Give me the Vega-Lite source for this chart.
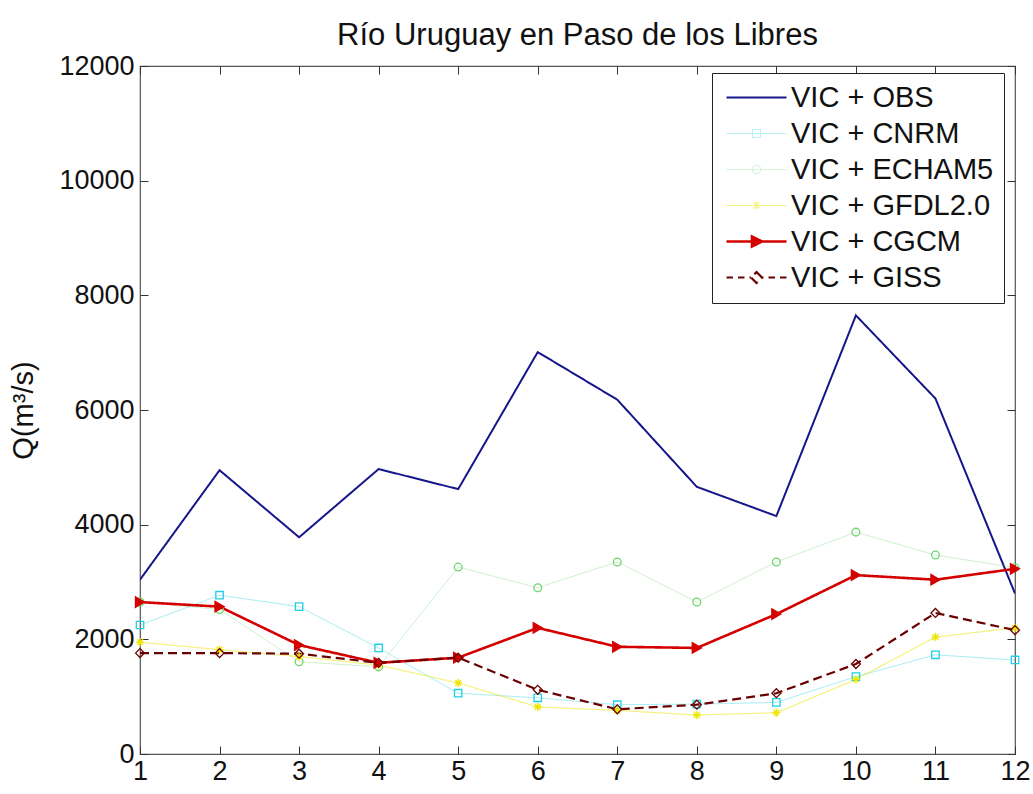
{
  "$schema": "https://vega.github.io/schema/vega-lite/v6.json",
  "autosize": "none",
  "width": 875,
  "height": 688,
  "padding": {"left": 140, "top": 66, "right": 18, "bottom": 40},
  "background": "white",
  "title": {"text": "Río Uruguay en Paso de los Libres", "fontSize": 31, "font": "Liberation Sans", "fontWeight": "normal", "color": "#111", "anchor": "middle", "offset": 0},
  "config": {
    "view": {"stroke": "#555", "strokeWidth": 1.2},
    "axis": {"domain": false, "grid": false, "tickSize": 8, "offset": -8, "tickColor": "#333", "tickWidth": 1, "labelFont": "Liberation Sans", "labelFontSize": 27, "labelColor": "#111", "titleFont": "Liberation Sans", "titleFontSize": 29, "titleFontWeight": "normal", "titleColor": "#111"}
  },
  "data": {"values": [
    {"m":1,"s":"VIC + OBS","q":3040},{"m":2,"s":"VIC + OBS","q":4950},{"m":3,"s":"VIC + OBS","q":3780},{"m":4,"s":"VIC + OBS","q":4970},{"m":5,"s":"VIC + OBS","q":4620},{"m":6,"s":"VIC + OBS","q":7010},{"m":7,"s":"VIC + OBS","q":6180},{"m":8,"s":"VIC + OBS","q":4660},{"m":9,"s":"VIC + OBS","q":4150},{"m":10,"s":"VIC + OBS","q":7650},{"m":11,"s":"VIC + OBS","q":6200},{"m":12,"s":"VIC + OBS","q":2800},
    {"m":1,"s":"VIC + CNRM","q":2250},{"m":2,"s":"VIC + CNRM","q":2770},{"m":3,"s":"VIC + CNRM","q":2570},{"m":4,"s":"VIC + CNRM","q":1850},{"m":5,"s":"VIC + CNRM","q":1060},{"m":6,"s":"VIC + CNRM","q":980},{"m":7,"s":"VIC + CNRM","q":860},{"m":8,"s":"VIC + CNRM","q":870},{"m":9,"s":"VIC + CNRM","q":900},{"m":10,"s":"VIC + CNRM","q":1350},{"m":11,"s":"VIC + CNRM","q":1730},{"m":12,"s":"VIC + CNRM","q":1640},
    {"m":1,"s":"VIC + ECHAM5","q":2650},{"m":2,"s":"VIC + ECHAM5","q":2520},{"m":3,"s":"VIC + ECHAM5","q":1610},{"m":4,"s":"VIC + ECHAM5","q":1520},{"m":5,"s":"VIC + ECHAM5","q":3260},{"m":6,"s":"VIC + ECHAM5","q":2900},{"m":7,"s":"VIC + ECHAM5","q":3350},{"m":8,"s":"VIC + ECHAM5","q":2650},{"m":9,"s":"VIC + ECHAM5","q":3350},{"m":10,"s":"VIC + ECHAM5","q":3870},{"m":11,"s":"VIC + ECHAM5","q":3470},{"m":12,"s":"VIC + ECHAM5","q":3250},
    {"m":1,"s":"VIC + GFDL2.0","q":1950},{"m":2,"s":"VIC + GFDL2.0","q":1820},{"m":3,"s":"VIC + GFDL2.0","q":1700},{"m":4,"s":"VIC + GFDL2.0","q":1550},{"m":5,"s":"VIC + GFDL2.0","q":1240},{"m":6,"s":"VIC + GFDL2.0","q":820},{"m":7,"s":"VIC + GFDL2.0","q":760},{"m":8,"s":"VIC + GFDL2.0","q":680},{"m":9,"s":"VIC + GFDL2.0","q":720},{"m":10,"s":"VIC + GFDL2.0","q":1300},{"m":11,"s":"VIC + GFDL2.0","q":2040},{"m":12,"s":"VIC + GFDL2.0","q":2200},
    {"m":1,"s":"VIC + CGCM","q":2650},{"m":2,"s":"VIC + CGCM","q":2570},{"m":3,"s":"VIC + CGCM","q":1900},{"m":4,"s":"VIC + CGCM","q":1590},{"m":5,"s":"VIC + CGCM","q":1680},{"m":6,"s":"VIC + CGCM","q":2200},{"m":7,"s":"VIC + CGCM","q":1870},{"m":8,"s":"VIC + CGCM","q":1850},{"m":9,"s":"VIC + CGCM","q":2440},{"m":10,"s":"VIC + CGCM","q":3120},{"m":11,"s":"VIC + CGCM","q":3040},{"m":12,"s":"VIC + CGCM","q":3230},
    {"m":1,"s":"VIC + GISS","q":1760},{"m":2,"s":"VIC + GISS","q":1760},{"m":3,"s":"VIC + GISS","q":1750},{"m":4,"s":"VIC + GISS","q":1590},{"m":5,"s":"VIC + GISS","q":1680},{"m":6,"s":"VIC + GISS","q":1120},{"m":7,"s":"VIC + GISS","q":780},{"m":8,"s":"VIC + GISS","q":860},{"m":9,"s":"VIC + GISS","q":1060},{"m":10,"s":"VIC + GISS","q":1570},{"m":11,"s":"VIC + GISS","q":2460},{"m":12,"s":"VIC + GISS","q":2160}
  ]},
  "layer": [
    {
      "mark": {"type": "line", "clip": true},
      "encoding": {
        "x": {"field": "m", "type": "quantitative", "scale": {"domain": [1, 12], "nice": false, "zero": false},
              "axis": {"orient": "bottom", "values": [1,2,3,4,5,6,7,8,9,10,11,12], "title": null, "labelPadding": 4, "labelFlush": false}},
        "y": {"field": "q", "type": "quantitative", "scale": {"domain": [0, 12000], "nice": false},
              "axis": {"orient": "left", "values": [0,2000,4000,6000,8000,10000,12000], "format": "d", "title": "Q(m³/s)", "labelPadding": 6, "titlePadding": 20, "labelFlush": false}},
        "color": {"field": "s", "type": "nominal",
          "scale": {"domain": ["VIC + OBS","VIC + CNRM","VIC + ECHAM5","VIC + GFDL2.0","VIC + CGCM","VIC + GISS"],
                    "range": ["#16168a","#20cfe4","#6fd46f","#ece600","#d40000","#6a0000"]},
          "legend": {
            "orient": "none", "legendX": 572, "legendY": 7, "title": null,
            "strokeColor": "#222", "fillColor": "white", "padding": 10,
            "labelFont": "Liberation Sans", "labelFontSize": 29, "labelColor": "#111", "labelLimit": 400,
            "labelOffset": 40, "rowPadding": 6, "symbolSize": 400, "symbolStrokeWidth": 1.5,
            "encode": {"symbols": {"update": {
              "shape": {"signal": "datum.value === 'VIC + OBS' ? 'M-1,0H5' : datum.value === 'VIC + CNRM' ? 'M-1,0H5M1.6,-0.4H2.4V0.4H1.6Z' : datum.value === 'VIC + ECHAM5' ? 'M-1,0H5M2.42,0A0.42,0.42 0 1,1 1.58,0A0.42,0.42 0 1,1 2.42,0Z' : datum.value === 'VIC + GFDL2.0' ? 'M-1,0H5M2,-0.4V0.4M1.7,-0.3L2.3,0.3M1.7,0.3L2.3,-0.3' : datum.value === 'VIC + CGCM' ? 'M-1,0H5M1.55,-0.5L2.55,0L1.55,0.5Z' : 'M-1,0H-0.35M0.15,0H0.8M1.3,0H1.45M2.55,0H2.7M3.2,0H3.85M4.35,0H5M2,-0.55L2.55,0L2,0.55L1.45,0Z'"},
              "fill": {"signal": "datum.value === 'VIC + CGCM' ? '#d40000' : 'transparent'"},
              "strokeWidth": {"signal": "datum.value === 'VIC + CGCM' ? 2.6 : datum.value === 'VIC + GISS' ? 2 : datum.value === 'VIC + OBS' ? 2.2 : 1.3"},
              "opacity": {"value": 1},
              "strokeOpacity": {"value": 1},
              "fillOpacity": {"value": 1}
            }}}
          }},
        "strokeDash": {"field": "s", "type": "nominal", "legend": null,
          "scale": {"domain": ["VIC + OBS","VIC + CNRM","VIC + ECHAM5","VIC + GFDL2.0","VIC + CGCM","VIC + GISS"],
                    "range": [[1,0],[1,0],[1,0],[1,0],[1,0],[9,5]]}},
        "strokeWidth": {"field": "s", "type": "nominal", "legend": null,
          "scale": {"type": "ordinal", "domain": ["VIC + OBS","VIC + CNRM","VIC + ECHAM5","VIC + GFDL2.0","VIC + CGCM","VIC + GISS"],
                    "range": [2, 1, 1, 1.2, 2.6, 2.2]}},
        "opacity": {"field": "s", "type": "nominal", "legend": null,
          "scale": {"type": "ordinal", "domain": ["VIC + OBS","VIC + CNRM","VIC + ECHAM5","VIC + GFDL2.0","VIC + CGCM","VIC + GISS"],
                    "range": [1, 0.4, 0.35, 0.5, 1, 1]}}
      }
    },
    {
      "transform": [{"filter": "datum.s !== 'VIC + OBS'"}],
      "mark": {"type": "point", "strokeWidth": 1.3, "opacity": 1, "clip": false},
      "encoding": {
        "x": {"field": "m", "type": "quantitative", "axis": {"orient": "top", "values": [1,2,3,4,5,6,7,8,9,10,11,12], "labels": false, "title": null}},
        "y": {"field": "q", "type": "quantitative", "axis": {"orient": "right", "values": [0,2000,4000,6000,8000,10000,12000], "labels": false, "title": null}},
        "shape": {"field": "s", "type": "nominal", "legend": null,
          "scale": {"domain": ["VIC + CNRM","VIC + ECHAM5","VIC + GFDL2.0","VIC + CGCM","VIC + GISS"],
                    "range": ["square","circle","M-1,0H1M0,-1V1M-0.7,-0.7L0.7,0.7M-0.7,0.7L0.7,-0.7","triangle-right","diamond"]}},
        "stroke": {"field": "s", "type": "nominal", "legend": null,
          "scale": {"domain": ["VIC + CNRM","VIC + ECHAM5","VIC + GFDL2.0","VIC + CGCM","VIC + GISS"],
                    "range": ["#20cfe4","#6fd46f","#ece600","#d40000","#6a0000"]}},
        "fill": {"field": "s", "type": "nominal", "legend": null,
          "scale": {"domain": ["VIC + CNRM","VIC + ECHAM5","VIC + GFDL2.0","VIC + CGCM","VIC + GISS"],
                    "range": ["transparent","transparent","transparent","#d40000","transparent"]}},
        "size": {"field": "s", "type": "nominal", "legend": null,
          "scale": {"type": "ordinal", "domain": ["VIC + CNRM","VIC + ECHAM5","VIC + GFDL2.0","VIC + CGCM","VIC + GISS"],
                    "range": [55, 60, 70, 110, 80]}}
      }
    }
  ],
  "resolve": {"axis": {"x": "independent", "y": "independent"}}
}
